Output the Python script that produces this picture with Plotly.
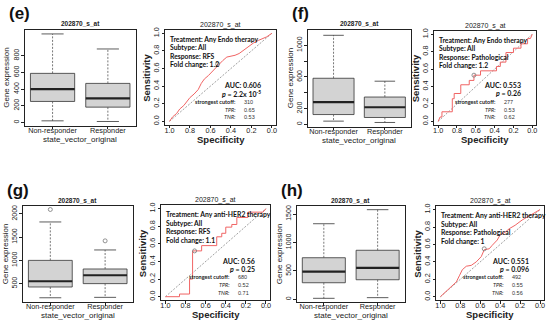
import plotly.graph_objects as go

W, H = 550, 323
groups = ["Non-responder", "Responder"]
probe = "202870_s_at"

# ---------------- boxplot statistics ----------------
e_low = [20, 12];   e_q1 = [252, 184]; e_med = [400, 288]; e_q3 = [588, 468]; e_up = [1060, 880]
e_out = [[], []]
f_low = [42, 25];   f_q1 = [125, 88];  f_med = [283, 217]; f_q3 = [583, 346]; f_up = [1125, 546]
f_out = [[], []]
g_low = [196, 205]; g_q1 = [428, 500]; g_med = [551, 680]; g_q3 = [1000, 815]; g_up = [1826, 1224]
g_out = [[2094], [1420]]
h_low = [18, 30];   h_q1 = [292, 345]; h_med = [488, 553]; h_q3 = [732, 863]; h_up = [1330, 1577]
h_out = [[], []]

# labelled ticks and unlabelled ticks (labels dropped where they would overlap)
e_yticks = [0, 200, 400, 600, 800]; e_ylab = ["0", "200", "400", "600", "800"]; e_yminor = []
f_yticks = [0, 200, 600, 1000]; f_ylab = ["0", "200", "600", "1000"]; f_yminor = [400, 800]
g_yticks = [500, 1000, 1500, 2000]; g_ylab = ["500", "1000", "1500", "2000"]; g_yminor = []
h_yticks = [0, 500, 1000, 1500]; h_ylab = ["0", "500", "1000", "1500"]; h_yminor = []

# ---------------- ROC curves (specificity, sensitivity) ----------------
roc_e_spec = [1.0, 0.97, 0.93, 0.90, 0.86, 0.83, 0.80, 0.76, 0.72, 0.69, 0.66, 0.62, 0.58, 0.55,
              0.52, 0.48, 0.44, 0.40, 0.36, 0.32, 0.27, 0.22, 0.18, 0.13, 0.09, 0.05, 0.0]
roc_e_sens = [0.0, 0.05, 0.09, 0.14, 0.18, 0.22, 0.27, 0.31, 0.36, 0.43, 0.48, 0.52, 0.57, 0.61,
              0.65, 0.69, 0.73, 0.74, 0.75, 0.77, 0.81, 0.86, 0.89, 0.92, 0.94, 0.96, 1.0]
roc_f_spec = [1.0, 0.98, 0.96, 0.96, 0.85, 0.85, 0.83, 0.83, 0.76, 0.76, 0.67, 0.67, 0.62, 0.62, 0.55,
              0.55, 0.38, 0.38, 0.34, 0.34, 0.28, 0.28, 0.20, 0.20, 0.12, 0.12, 0.05, 0.05, 0.02, 0.0]
roc_f_sens = [0.0, 0.05, 0.05, 0.11, 0.11, 0.26, 0.26, 0.32, 0.32, 0.42, 0.42, 0.47, 0.47, 0.53, 0.53,
              0.58, 0.58, 0.63, 0.63, 0.68, 0.68, 0.79, 0.79, 0.84, 0.84, 0.89, 0.89, 0.95, 0.95, 1.0]
roc_g_spec = [1.0, 0.86, 0.86, 0.76, 0.76, 0.73, 0.73, 0.64, 0.64, 0.49, 0.49, 0.44, 0.44, 0.40,
              0.40, 0.34, 0.34, 0.29, 0.29, 0.18, 0.18, 0.03, 0.0]
roc_g_sens = [0.0, 0.0, 0.03, 0.03, 0.20, 0.20, 0.52, 0.52, 0.58, 0.58, 0.68, 0.68, 0.72, 0.72,
              0.79, 0.79, 0.82, 0.82, 0.90, 0.90, 0.96, 0.96, 1.0]
roc_h_spec = [1.0, 0.95, 0.91, 0.88, 0.84, 0.81, 0.78, 0.74, 0.69, 0.64, 0.59, 0.56, 0.51, 0.48,
              0.43, 0.40, 0.35, 0.31, 0.25, 0.18, 0.12, 0.07, 0.0]
roc_h_sens = [0.0, 0.05, 0.10, 0.13, 0.17, 0.24, 0.31, 0.35, 0.36, 0.40, 0.46, 0.54, 0.55, 0.59,
              0.65, 0.71, 0.74, 0.78, 0.82, 0.88, 0.92, 0.95, 1.0]
diag_spec = [1.0, 0.0]
diag_sens = [0.0, 1.0]

roc_ticks = [1.0, 0.8, 0.6, 0.4, 0.2, 0.0]
roc_ticklab = ["1.0", "0.8", "0.6", "0.4", "0.2", "0.0"]

treatments = ["Any Endo therapy", "Any Endo therapy", "Any anti-HER2 therapy", "Any anti-HER2 therapy"]
subtypes = ["All", "All", "All", "All"]
responses = ["RFS", "Pathological", "RFS", "Pathological"]
fold_changes = ["1.2", "1.2", "1.1", "1"]
aucs = ["0.606", "0.553", "0.56", "0.551"]
pvals = ["2.2x 10<sup>-5</sup>", "0.26", "0.25", "0.096"]
cutoffs = ["310", "277", "680", "492"]
tprs = [0.65, 0.53, 0.52, 0.55]
tnrs = [0.53, 0.62, 0.71, 0.56]
panel_labels = ["(e)", "(f)", "(g)", "(h)"]

# ---------------- layout geometry (pixels) ----------------
def px(x):
    return x / W

def py(y):
    return 1 - y / H

# (left, right, top, bottom) frames
box_frames = [(24, 135, 27, 124), (308, 411, 27, 125), (22, 132, 205, 302), (297, 405, 205, 302)]
roc_frames = [(165, 276, 27, 123), (435, 537, 28, 123), (161, 270, 204, 300), (437, 545, 205, 300)]
box_ranges = [(-40, 1110), (-30, 1195), (101, 2167), (-50, 1640)]

RFONT = "Liberation Sans, Arial, sans-serif"
CFONT = "Lato, Carlito, sans-serif"

fig = go.Figure()
annotations = []

def ax_names(k):
    s = "" if k == 1 else str(k)
    return "x" + s, "y" + s, "xaxis" + s, "yaxis" + s

box_data = [
    (e_low, e_q1, e_med, e_q3, e_up, e_out, e_yticks, e_ylab, e_yminor),
    (f_low, f_q1, f_med, f_q3, f_up, f_out, f_yticks, f_ylab, f_yminor),
    (g_low, g_q1, g_med, g_q3, g_up, g_out, g_yticks, g_ylab, g_yminor),
    (h_low, h_q1, h_med, h_q3, h_up, h_out, h_yticks, h_ylab, h_yminor),
]
roc_data = [(roc_e_spec, roc_e_sens), (roc_f_spec, roc_f_sens),
            (roc_g_spec, roc_g_sens), (roc_h_spec, roc_h_sens)]

HW = 0.4
CW = 0.2
layout_axes = {}

def base_axis(domain, rng, tickvals, ticktext, anchor, angle=0, size=7, standoff=0, minor=None):
    d = dict(domain=domain, range=list(rng), tickvals=tickvals, ticktext=ticktext,
             anchor=anchor, showline=True, mirror=True, linecolor="#222", linewidth=1,
             ticks="outside", ticklen=2.5, tickcolor="#222", tickwidth=0.8,
             showgrid=False, zeroline=False, tickangle=angle, ticklabelstandoff=standoff,
             tickfont=dict(family=RFONT, size=size, color="#222"), fixedrange=True)
    if minor:
        d["minor"] = dict(tickmode="array", tickvals=minor, ticks="outside", ticklen=2.5,
                          tickcolor="#222", tickwidth=0.8, showgrid=False)
    return d

for p in range(4):
    low, q1, med, q3, up, outs, yt, yl, ym = box_data[p]
    k = 2 * p + 1
    xa, ya, xn, yn = ax_names(k)
    L, R, T, B = box_frames[p]
    bx, by, mx, my, wx, wy, cx, cy, ox, oy = [], [], [], [], [], [], [], [], [], []
    for i in range(2):
        c = i + 1
        bx += [c - HW, c + HW, c + HW, c - HW, c - HW, None]
        by += [q1[i], q1[i], q3[i], q3[i], q1[i], None]
        mx += [c - HW, c + HW, None]
        my += [med[i], med[i], None]
        wx += [c, c, None, c, c, None]
        wy += [q3[i], up[i], None, q1[i], low[i], None]
        cx += [c - CW, c + CW, None, c - CW, c + CW, None]
        cy += [up[i], up[i], None, low[i], low[i], None]
        for v in outs[i]:
            ox.append(c)
            oy.append(v)
    fig.add_trace(go.Scatter(x=bx, y=by, mode="lines", fill="toself", fillcolor="#d3d3d3",
                             line=dict(color="#333", width=0.8), xaxis=xa, yaxis=ya, showlegend=False,
                             hoverinfo="skip"))
    fig.add_trace(go.Scatter(x=wx, y=wy, mode="lines", line=dict(color="#555", width=0.8, dash="2px,1.5px"),
                             xaxis=xa, yaxis=ya, showlegend=False, hoverinfo="skip"))
    fig.add_trace(go.Scatter(x=cx, y=cy, mode="lines", line=dict(color="#333", width=0.8),
                             xaxis=xa, yaxis=ya, showlegend=False, hoverinfo="skip"))
    fig.add_trace(go.Scatter(x=mx, y=my, mode="lines", line=dict(color="#222", width=2.2),
                             xaxis=xa, yaxis=ya, showlegend=False, hoverinfo="skip"))
    if ox:
        fig.add_trace(go.Scatter(x=ox, y=oy, mode="markers",
                                 marker=dict(symbol="circle-open", size=4, color="#777", line=dict(width=0.8)),
                                 xaxis=xa, yaxis=ya, showlegend=False, hoverinfo="skip"))
    layout_axes[xn] = base_axis([px(L), px(R)], (0.5, 2.5), [1, 2], groups, ya, 0, 7.3, -5)
    layout_axes[yn] = base_axis([py(B), py(T)], box_ranges[p], yt, yl, xa, -90, 7, 0, ym)
    cxp = (L + R) / 2
    annotations.append(dict(x=px(cxp), y=py(T - 6), text="<b>" + probe + "</b>", showarrow=False,
                            xref="paper", yref="paper", xanchor="center", yanchor="middle",
                            font=dict(family=RFONT, size=6.5, color="#222")))
    annotations.append(dict(x=px(cxp), y=py(B + 13.5), text="state_vector_original", showarrow=False,
                            xref="paper", yref="paper", xanchor="center", yanchor="middle",
                            font=dict(family=RFONT, size=8, color="#222")))
    annotations.append(dict(x=px(L - 18), y=py((T + B) / 2), text="Gene expression", showarrow=False,
                            xref="paper", yref="paper", xanchor="center", yanchor="middle", textangle=-90,
                            font=dict(family=RFONT, size=8, color="#222")))
    annotations.append(dict(x=px(L - 18), y=py(T - 16), text="<b>" + panel_labels[p] + "</b>",
                            showarrow=False, xref="paper", yref="paper", xanchor="left", yanchor="middle",
                            font=dict(family=RFONT, size=17, color="#111")))

    # ---- ROC ----
    k = 2 * p + 2
    xa, ya, xn, yn = ax_names(k)
    L, R, T, B = roc_frames[p]
    spec, sens = roc_data[p]
    fig.add_trace(go.Scatter(x=diag_spec, y=diag_sens, mode="lines",
                             line=dict(color="#888", width=0.8, dash="2px,1.5px"),
                             xaxis=xa, yaxis=ya, showlegend=False, hoverinfo="skip"))
    fig.add_trace(go.Scatter(x=spec, y=sens, mode="lines", line=dict(color="#f06464", width=1),
                             xaxis=xa, yaxis=ya, showlegend=False, hoverinfo="skip"))
    fig.add_trace(go.Scatter(x=[tnrs[p]], y=[tprs[p]], mode="markers",
                             marker=dict(symbol="circle-open", size=4, color="#777", line=dict(width=0.8)),
                             xaxis=xa, yaxis=ya, showlegend=False, hoverinfo="skip"))
    layout_axes[xn] = base_axis([px(L), px(R)], (1.04, -0.04), roc_ticks, roc_ticklab, ya, 0, 7.3, -4)
    layout_axes[yn] = base_axis([py(B), py(T)], (-0.04, 1.04), roc_ticks, roc_ticklab, xa, -90, 7.3, 0)
    cxp = (L + R) / 2
    annotations.append(dict(x=px(cxp), y=py(T - 5), text=probe, showarrow=False,
                            xref="paper", yref="paper", xanchor="center", yanchor="middle",
                            font=dict(family=RFONT, size=7, color="#222")))
    annotations.append(dict(x=px(cxp), y=py(B + 14.5), text="<b>Specificity</b>", showarrow=False,
                            xref="paper", yref="paper", xanchor="center", yanchor="middle",
                            font=dict(family=RFONT, size=9.5, color="#222")))
    annotations.append(dict(x=px(L - 19), y=py((T + B) / 2), text="<b>Sensitivity</b>", showarrow=False,
                            xref="paper", yref="paper", xanchor="center", yanchor="middle", textangle=-90,
                            font=dict(family=RFONT, size=9.5, color="#222")))
    lines = ["Treatment: " + treatments[p], "Subtype: " + subtypes[p],
             "Response: " + responses[p], "Fold change: " + fold_changes[p]]
    sp = 8.6
    for j, t in enumerate(lines):
        annotations.append(dict(x=px(L + 3), y=py(T + 9 + sp * j), text="<b>" + t + "</b>", showarrow=False,
                                xref="paper", yref="paper", xanchor="left", yanchor="middle",
                                font=dict(family=CFONT, size=6.8, color="#111")))
    rx = R - 13
    annotations.append(dict(x=px(rx), y=py(B - 40), text="<b>AUC: " + aucs[p] + "</b>", showarrow=False,
                            xref="paper", yref="paper", xanchor="right", yanchor="middle",
                            font=dict(family=CFONT, size=7, color="#111")))
    annotations.append(dict(x=px(rx), y=py(B - 32), text="<b><i>p</i> = " + pvals[p] + "</b>", showarrow=False,
                            xref="paper", yref="paper", xanchor="right", yanchor="middle",
                            font=dict(family=CFONT, size=7, color="#111")))
    lx = R - 38
    vx = R - 34
    stats = [("<b>strongest cutoff:</b>", cutoffs[p]),
             ("<i>TPR:</i>", "%.2f" % tprs[p]),
             ("<i>TNR:</i>", "%.2f" % tnrs[p])]
    for j, (lab, val) in enumerate(stats):
        yy = B - 23.5 + 8 * j
        annotations.append(dict(x=px(lx), y=py(yy), text=lab, showarrow=False,
                                xref="paper", yref="paper", xanchor="right", yanchor="middle",
                                font=dict(family=CFONT, size=5.5, color="#222")))
        annotations.append(dict(x=px(vx), y=py(yy), text=val, showarrow=False,
                                xref="paper", yref="paper", xanchor="left", yanchor="middle",
                                font=dict(family=RFONT, size=5.5, color="#333")))

fig.update_layout(width=W, height=H, margin=dict(l=0, r=0, t=0, b=0),
                  paper_bgcolor="white", plot_bgcolor="white", showlegend=False,
                  annotations=annotations, **layout_axes)

fig.write_html("out.html", config={"displayModeBar": False},
               post_script="document.body.style.margin='0';document.body.style.padding='0';")
